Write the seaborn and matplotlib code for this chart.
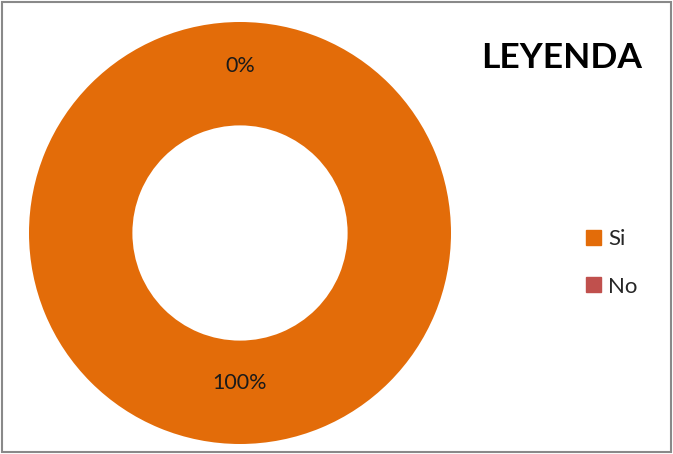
import matplotlib
matplotlib.use("Agg")
import matplotlib.pyplot as plt
import matplotlib.patches as mpatches
import numpy as np
import seaborn as sns

categories = ["Si", "No"]
values = [100, 0]
pct_labels = ["100%", "0%"]
colors = ["#E36C09", "#C0504D"]

sns.set_theme(style="white")
plt.rcParams["font.family"] = ["Lato", "DejaVu Sans"]

W, H = 673, 454
fig = plt.figure(figsize=(W / 100, H / 100), dpi=100)
cx, cy, r = 240, 454 - 233, 211
ax = fig.add_axes([(cx - r) / W, (cy - r) / H, 2 * r / W, 2 * r / H])

wedges, _ = ax.pie(values, colors=colors, startangle=90, counterclock=False,
                   radius=1.0, wedgeprops=dict(width=0.49, edgecolor="none"))
ax.set_xlim(-1, 1)
ax.set_ylim(-1, 1)
ax.set_aspect("equal")
ax.axis("off")

# percentage labels at wedge mid-angles
radii = [0.71, 0.79]
for w, lab, rr in zip(wedges, pct_labels, radii):
    ang = np.deg2rad((w.theta1 + w.theta2) / 2)
    ax.text(rr * np.cos(ang), rr * np.sin(ang), lab, ha="center", va="center",
            fontsize=15.5, color="#1a1a1a")

fig.text(562 / W, 1 - 58 / H, "LEYENDA", ha="center", va="center",
         fontsize=25.5, fontweight="bold", color="black")

handles = [mpatches.Patch(color=c) for c in colors]
fig.legend(handles, categories, loc="center left",
           bbox_to_anchor=(566 / W, 1 - 263 / H), frameon=False,
           fontsize=16, handlelength=0.68, handleheight=0.68,
           handletextpad=0.32, labelspacing=1.22)

fig.add_artist(mpatches.Rectangle((2 / W, 2 / H), 1 - 4 / W, 1 - 4 / H,
                                  transform=fig.transFigure, fill=False,
                                  edgecolor="#898989", linewidth=1.5))

fig.savefig("out.png", dpi=100)
